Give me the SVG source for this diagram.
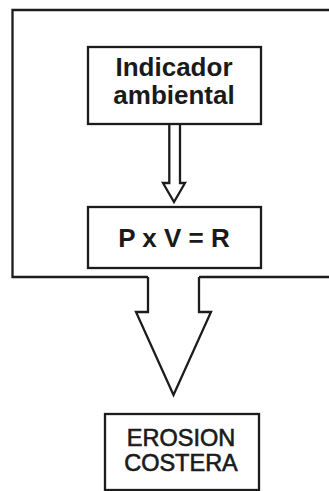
<svg xmlns="http://www.w3.org/2000/svg" width="329" height="491" viewBox="0 0 329 491">
  <style>
    .line { fill: none; stroke: #1c1c1c; stroke-width: 2.3; stroke-linejoin: miter; }
    .box { fill: #ffffff; stroke: #1c1c1c; stroke-width: 2.3; }
    .lbl { font-family: "Liberation Sans", Arial, sans-serif; fill: #1a1a1a; text-anchor: middle; }
    .bold { font-weight: bold; font-size: 26px; }
    .reg { font-size: 23.5px; stroke: #1a1a1a; stroke-width: 0.6; }
  </style>
  <rect width="329" height="491" fill="#ffffff"/>

  <!-- system boundary, open at the bottom where the output arrow leaves -->
  <g id="boundary">
    <path class="line" d="M148,277 H12.5 V10 H340 V277 H199"/>
  </g>

  <g id="connectors">
    <!-- hollow arrow: indicator to formula -->
    <path class="line" d="M169.3,124 V183 H163 L174,202 L185,183 H180 V124"/>
    <!-- wide hollow arrow leaving the boundary -->
    <path class="line" d="M148,277 V312 H136 L173.5,395 L211,312 H199 V277"/>
  </g>

  <g id="indicador">
    <rect class="box" x="88" y="47" width="173" height="77"/>
    <text class="lbl bold" x="174" y="76">Indicador</text>
    <text class="lbl bold" x="174" y="104">ambiental</text>
  </g>

  <g id="formula">
    <rect class="box" x="88" y="207" width="173" height="61"/>
    <text class="lbl bold" x="174" y="247">P x V = R</text>
  </g>

  <g id="erosion">
    <rect class="box" x="105" y="414" width="154" height="76"/>
    <text class="lbl reg" x="181" y="446">EROSION</text>
    <text class="lbl reg" x="181" y="471">COSTERA</text>
  </g>
</svg>
